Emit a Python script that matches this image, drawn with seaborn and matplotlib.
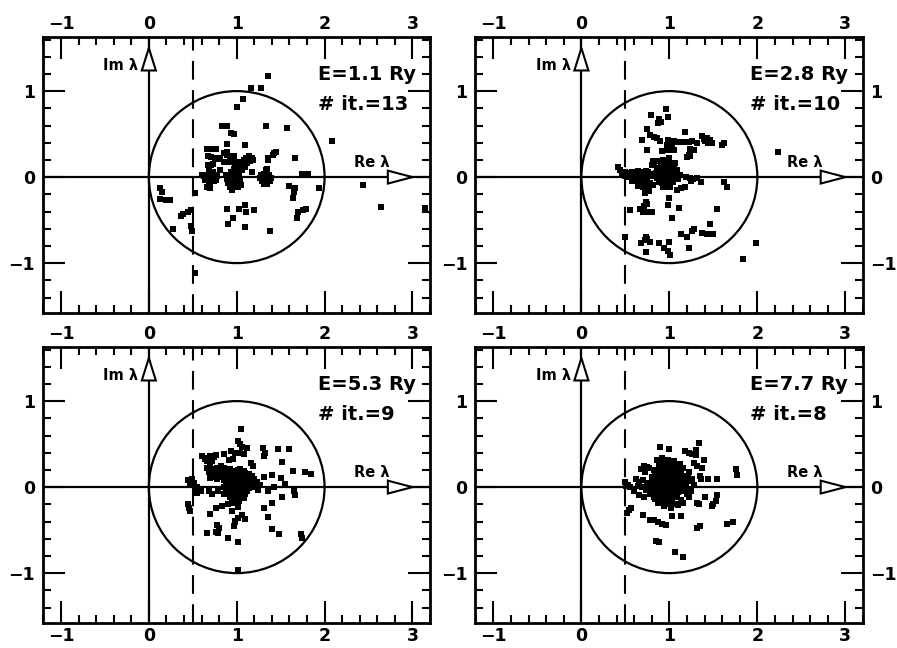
import numpy as np
import matplotlib
matplotlib.use("Agg")
import matplotlib.pyplot as plt
from matplotlib.patches import Circle, Polygon
from matplotlib.ticker import MultipleLocator
import seaborn as sns

# panel captions
energies = ["E=1.1 Ry", "E=2.8 Ry", "E=5.3 Ry", "E=7.7 Ry"]
iterations = ["# it.=13", "# it.=10", "# it.=9", "# it.=8"]

# eigenvalues (Re, Im)
eig_e11 = [
    (1.36, 1.17), (1.16, 1.04), (1.28, 1.04), (1.07, 0.91), (1.00, 0.81),
    (0.83, 0.60), (0.89, 0.59), (1.33, 0.60), (1.57, 0.57),
    (0.94, 0.51), (0.97, 0.50), (2.09, 0.42), (0.89, 0.38), (1.09, 0.37),
    (0.66, 0.33), (0.70, 0.33), (0.74, 0.33), (0.77, 0.33), (0.89, 0.29),
    (0.67, 0.24), (0.71, 0.23), (0.75, 0.22), (0.79, 0.21), (0.81, 0.22),
    (0.85, 0.18), (0.88, 0.18), (0.91, 0.18), (0.94, 0.18),
    (0.67, 0.14), (0.71, 0.14), (0.73, 0.15), (0.81, 0.08),
    (0.86, 0.28), (0.89, 0.26), (0.93, 0.25), (0.97, 0.24),
    (1.45, 0.29), (1.41, 0.26), (1.36, 0.20), (1.43, 0.28), (1.66, 0.22),
    (1.36, 0.22), (1.34, 0.10), (1.17, 0.06), (1.33, 0.08),
    (1.74, 0.04), (1.81, 0.04),
    (1.60, -0.10), (1.66, -0.13), (1.65, -0.17), (1.64, -0.24), (1.94, -0.13),
    (2.44, -0.09),
    (0.125, -0.13), (0.145, -0.17), (0.13, -0.25), (0.19, -0.27), (0.24, -0.27),
    (0.52, -0.18),
    (0.485, -0.38), (0.45, -0.40), (0.39, -0.43), (0.37, -0.45),
    (0.89, -0.37), (1.03, -0.37), (1.09, -0.32), (1.11, -0.40), (1.20, -0.38),
    (0.96, -0.47), (0.90, -0.54), (1.10, -0.58),
    (1.70, -0.40), (1.75, -0.38), (1.79, -0.37), (1.69, -0.48),
    (1.375, -0.63), (2.64, -0.35), (0.28, -0.60), (0.48, -0.57), (0.49, -0.63),
    (3.14, -0.36), (0.52, -1.12), (0.66, -0.11), (0.70, -0.13),
    (0.92, 0.22), (0.95, 0.20), (0.98, 0.16), (1.00, 0.12), (1.02, 0.10),
    (0.97, 0.10), (1.04, 0.14), (1.06, 0.18), (1.08, 0.20), (1.11, 0.22),
    (1.14, 0.24), (1.17, 0.22), (1.19, 0.20), (1.12, 0.16), (1.09, 0.12),
    (1.06, 0.08), (1.03, 0.05), (1.01, 0.17), (1.10, 0.16), (1.15, 0.19),
    (0.88, 0.02), (0.91, 0.03), (0.94, 0.02), (0.97, 0.03), (1.00, 0.02),
    (1.03, 0.03), (0.89, -0.02), (0.92, -0.03), (0.95, -0.02), (0.98, -0.03),
    (1.01, -0.02), (1.04, -0.03), (0.90, -0.07), (0.93, -0.08), (0.96, -0.07),
    (0.99, -0.08), (1.02, -0.07), (0.92, -0.11), (0.95, -0.12), (0.98, -0.11),
    (1.01, -0.12), (0.95, -0.15), (0.93, 0.06), (0.99, 0.07), (1.05, -0.09),
    (0.60, 0.02), (0.63, 0.01), (0.66, 0.03), (0.69, 0.01), (0.72, 0.03),
    (0.75, 0.02), (0.78, 0.01), (0.64, -0.03), (0.68, -0.04), (0.71, -0.02),
    (0.74, -0.04), (0.77, -0.03), (0.70, -0.07), (0.73, 0.06), (0.69, 0.07),
    (1.28, 0.03), (1.31, 0.04), (1.34, 0.04), (1.37, 0.03), (1.27, -0.01),
    (1.30, -0.01), (1.33, -0.01), (1.36, -0.01), (1.39, -0.01), (1.29, -0.05),
    (1.32, -0.06), (1.35, -0.05), (1.38, -0.04), (1.31, -0.08), (1.34, -0.08),
]

eig_e28 = [
    (0.96, 0.79), (0.79, 0.72), (0.98, 0.70), (0.88, 0.67), (0.90, 0.64),
    (0.87, 0.63), (0.75, 0.56), (1.18, 0.52),
    (0.78, 0.49), (0.82, 0.47), (0.86, 0.45), (0.89, 0.42), (0.69, 0.43),
    (0.99, 0.43), (1.05, 0.42), (1.10, 0.41), (1.16, 0.41), (1.22, 0.41),
    (1.26, 0.42), (1.31, 0.40),
    (1.37, 0.48), (1.40, 0.46), (1.43, 0.45), (1.46, 0.43), (1.40, 0.42),
    (1.44, 0.40), (1.49, 0.40), (1.39, 0.44), (1.62, 0.40), (1.60, 0.37),
    (0.97, 0.37), (1.01, 0.33), (1.05, 0.31), (0.99, 0.31), (0.92, 0.30),
    (1.03, 0.36), (1.24, 0.33), (1.28, 0.31), (1.22, 0.26), (1.20, 0.23),
    (1.24, 0.25), (0.74, 0.32), (2.24, 0.29),
    (0.82, 0.18), (0.80, 0.14), (0.86, 0.19), (0.81, 0.19), (0.84, 0.19),
    (0.83, 0.15),
    (0.42, 0.12), (0.44, 0.08), (0.46, 0.05), (0.49, 0.06), (0.52, 0.04),
    (0.55, 0.05), (0.58, 0.06), (0.61, 0.05), (0.64, 0.07), (0.67, 0.06),
    (0.70, 0.05), (0.73, 0.07), (0.76, 0.06), (0.79, 0.04), (0.50, 0.01),
    (0.54, 0.00), (0.58, 0.01), (0.62, -0.01), (0.66, 0.00), (0.71, 0.01),
    (0.75, 0.00), (0.80, 0.01),
    (0.57, -0.04), (0.60, -0.05), (0.63, -0.04), (0.66, -0.06), (0.69, -0.07),
    (0.72, -0.06), (0.75, -0.08), (0.78, -0.07), (0.81, -0.09), (0.64, -0.10),
    (0.70, -0.12), (0.74, -0.14), (0.77, -0.16), (0.72, -0.18),
    (0.93, 0.20), (0.97, 0.19), (1.00, 0.22), (0.90, 0.16), (0.94, 0.15),
    (0.98, 0.14), (1.02, 0.15), (1.06, 0.16), (0.86, 0.11), (0.89, 0.10),
    (0.93, 0.10), (0.97, 0.09), (1.01, 0.10), (1.05, 0.09), (1.09, 0.08),
    (0.85, 0.05), (0.88, 0.04), (0.92, 0.05), (0.96, 0.04), (1.00, 0.05),
    (1.04, 0.04), (1.08, 0.03), (1.12, 0.02), (0.86, -0.01), (0.90, -0.02),
    (0.94, -0.01), (0.98, -0.02), (1.02, -0.01), (1.06, -0.02), (1.10, -0.02),
    (0.88, -0.06), (0.92, -0.07), (0.96, -0.06), (1.00, -0.07), (1.04, -0.06),
    (0.93, -0.11), (0.97, -0.12), (1.01, -0.11),
    (1.19, 0.00), (1.23, -0.01), (1.27, -0.02), (1.31, -0.01), (1.25, -0.04),
    (1.36, -0.06), (1.62, -0.06), (1.66, -0.12),
    (1.09, -0.15), (1.13, -0.13), (1.18, -0.11),
    (1.00, -0.24), (1.11, -0.36), (0.99, -0.33), (1.54, -0.37), (0.55, -0.38),
    (0.73, -0.29), (0.75, -0.31), (0.71, -0.34), (0.67, -0.37), (0.70, -0.41),
    (0.75, -0.41), (0.80, -0.40),
    (1.03, -0.48), (1.46, -0.55),
    (1.28, -0.60), (1.26, -0.63), (1.37, -0.65), (1.43, -0.66), (1.50, -0.66),
    (1.13, -0.66), (1.20, -0.70), (0.50, -0.70),
    (0.73, -0.70), (0.75, -0.72), (0.78, -0.75), (0.72, -0.73), (0.68, -0.77),
    (0.88, -0.77), (1.00, -0.76), (0.94, -0.83), (0.99, -0.86), (1.01, -0.90),
    (1.22, -0.82), (0.73, -0.87), (1.98, -0.77), (1.84, -0.95),
]

eig_e53 = [
    (1.05, 0.67), (1.02, 0.535), (1.04, 0.50),
    (1.06, 0.47), (1.04, 0.40), (1.08, 0.38), (1.12, 0.45), (0.98, 0.40),
    (0.94, 0.42), (1.30, 0.46), (1.32, 0.40), (1.31, 0.36),
    (1.47, 0.44), (1.59, 0.44), (1.52, 0.29),
    (1.64, 0.19), (1.78, 0.18), (1.84, 0.15),
    (0.61, 0.36), (0.64, 0.33), (0.67, 0.34), (0.70, 0.36), (0.74, 0.35),
    (0.77, 0.37), (0.66, 0.30), (0.72, 0.30),
    (0.85, 0.38), (0.91, 0.31), (0.96, 0.33), (1.16, 0.28), (1.19, 0.24),
    (0.66, 0.22), (0.70, 0.23), (0.74, 0.21), (0.78, 0.22), (0.82, 0.24),
    (0.86, 0.22), (0.68, 0.17), (0.72, 0.16), (0.76, 0.18), (0.80, 0.16),
    (0.84, 0.17), (0.70, 0.11), (0.74, 0.12), (0.78, 0.10), (0.82, 0.12),
    (0.86, 0.11),
    (0.88, 0.20), (0.92, 0.21), (0.97, 0.19), (1.01, 0.20), (1.04, 0.21),
    (1.08, 0.19),
    (0.86, 0.16), (0.90, 0.15), (0.94, 0.17), (0.98, 0.16), (1.02, 0.15),
    (1.06, 0.17), (1.10, 0.16), (1.14, 0.15),
    (0.88, 0.12), (0.92, 0.11), (0.96, 0.13), (1.00, 0.12), (1.04, 0.11),
    (1.08, 0.13), (1.12, 0.12),
    (0.86, 0.08), (0.90, 0.07), (0.94, 0.09), (0.98, 0.08), (1.02, 0.07),
    (1.06, 0.09), (1.10, 0.08), (1.14, 0.07),
    (0.88, 0.04), (0.92, 0.03), (0.96, 0.05), (1.00, 0.04), (1.04, 0.03),
    (1.08, 0.05), (1.12, 0.04), (1.16, 0.03),
    (0.86, 0.00), (0.90, -0.01), (0.94, 0.01), (0.98, 0.00), (1.02, -0.01),
    (1.06, 0.01), (1.10, 0.00), (1.14, -0.01),
    (0.88, -0.04), (0.92, -0.05), (0.96, -0.03), (1.00, -0.04), (1.04, -0.05),
    (1.08, -0.03), (1.12, -0.04),
    (0.90, -0.08), (0.94, -0.09), (0.98, -0.07), (1.02, -0.08), (1.06, -0.09),
    (1.10, -0.08),
    (0.92, -0.12), (0.96, -0.13), (1.00, -0.11), (1.04, -0.12), (1.08, -0.13),
    (0.95, -0.16), (0.99, -0.17), (1.03, -0.16),
    (1.17, 0.13), (1.20, 0.10), (1.23, 0.06), (1.26, 0.02), (1.21, 0.00),
    (1.24, -0.03), (1.31, 0.12), (1.40, 0.14), (1.50, 0.11), (1.55, 0.04),
    (0.49, 0.10), (0.51, 0.05), (0.55, 0.00), (0.59, -0.04), (0.55, -0.07),
    (0.45, 0.08), (0.47, 0.02),
    (0.68, -0.04), (0.72, -0.08), (0.79, -0.04), (0.85, -0.08),
    (1.36, -0.04), (1.43, 0.00), (1.52, -0.11), (1.65, -0.05), (1.66, -0.09),
    (1.31, -0.24), (1.40, -0.19),
    (0.76, -0.24), (0.83, -0.22), (0.90, -0.20), (0.97, -0.19), (1.02, -0.23),
    (0.45, -0.20), (0.46, -0.24), (0.47, -0.28), (0.70, -0.31),
    (0.95, -0.28), (1.06, -0.32), (1.02, -0.36), (1.09, -0.37), (0.98, -0.39),
    (1.36, -0.35),
    (0.78, -0.44), (0.80, -0.48), (0.77, -0.52), (0.79, -0.53),
    (0.97, -0.45), (0.98, -0.41),
    (0.66, -0.53), (0.90, -0.59), (1.02, -0.64),
    (1.40, -0.49), (1.48, -0.54), (1.73, -0.54), (1.74, -0.59),
    (1.02, -0.96),
]

eig_e77 = [
    (1.34, 0.515), (0.89, 0.465), (1.00, 0.44),
    (1.30, 0.43), (1.18, 0.42), (1.22, 0.40), (1.26, 0.38), (1.30, 0.37),
    (1.39, 0.32), (1.28, 0.28), (1.31, 0.25), (1.37, 0.22),
    (1.76, 0.21), (1.77, 0.14),
    (1.35, 0.13), (1.36, 0.10), (1.44, 0.09), (1.54, 0.09),
    (0.71, 0.25), (0.74, 0.23), (0.68, 0.21), (0.77, 0.22), (0.72, 0.18),
    (0.86, 0.32), (0.92, 0.34), (0.98, 0.31), (1.05, 0.30), (1.12, 0.27),
    (1.16, 0.22), (1.22, 0.18), (1.26, 0.10), (1.28, 0.03), (1.25, -0.05),
    (1.22, -0.12), (1.16, -0.18), (1.10, -0.21), (1.02, -0.24), (0.94, -0.22),
    (0.87, -0.18), (0.82, -0.12), (0.79, -0.05), (0.78, 0.03), (0.80, 0.12),
    (0.82, 0.20), (0.90, 0.29), (0.96, 0.28), (1.02, 0.27), (1.09, 0.26),
    (1.21, 0.13), (1.23, 0.07), (1.22, -0.02), (1.20, -0.08), (0.81, 0.07),
    (0.80, -0.02), (0.84, -0.14), (0.98, -0.20), (1.06, -0.20), (1.13, -0.15),
    (0.88, 0.24), (0.93, 0.25), (0.98, 0.23), (1.03, 0.24), (1.08, 0.23),
    (0.85, 0.19), (0.89, 0.20), (0.94, 0.18), (0.99, 0.19), (1.04, 0.20),
    (1.09, 0.18), (1.13, 0.19),
    (0.84, 0.14), (0.88, 0.13), (0.92, 0.15), (0.97, 0.14), (1.01, 0.13),
    (1.06, 0.15), (1.10, 0.14), (1.15, 0.13),
    (0.83, 0.09), (0.87, 0.10), (0.91, 0.08), (0.95, 0.09), (1.00, 0.10),
    (1.04, 0.08), (1.08, 0.09), (1.13, 0.10), (1.18, 0.08),
    (0.84, 0.04), (0.88, 0.03), (0.92, 0.05), (0.96, 0.04), (1.00, 0.03),
    (1.05, 0.05), (1.09, 0.04), (1.14, 0.03), (1.19, 0.04),
    (0.83, -0.01), (0.87, 0.00), (0.91, -0.02), (0.95, -0.01), (0.99, 0.00),
    (1.03, -0.02), (1.07, -0.01), (1.12, 0.00), (1.17, -0.02),
    (0.85, -0.06), (0.89, -0.05), (0.93, -0.07), (0.97, -0.06), (1.02, -0.05),
    (1.06, -0.07), (1.10, -0.06), (1.15, -0.05),
    (0.88, -0.11), (0.92, -0.10), (0.96, -0.12), (1.00, -0.11), (1.05, -0.10),
    (1.09, -0.12),
    (0.94, -0.16), (0.99, -0.15), (1.03, -0.17),
    (0.62, 0.10), (0.66, 0.06), (0.70, 0.08), (0.74, 0.05), (0.64, 0.01),
    (0.69, 0.00), (0.73, -0.03), (0.77, -0.01),
    (0.50, 0.06), (0.53, 0.03), (0.55, 0.00), (0.51, 0.01),
    (0.60, -0.05), (0.65, -0.09), (0.71, -0.11), (0.78, -0.08),
    (0.56, -0.24), (0.54, -0.27), (0.52, -0.30),
    (0.70, -0.33), (0.78, -0.38), (0.83, -0.38), (0.87, -0.41), (0.92, -0.43),
    (0.96, -0.44), (1.03, -0.34), (1.13, -0.34),
    (1.31, -0.18), (1.34, -0.20), (1.40, -0.11), (1.54, -0.09), (1.53, -0.16),
    (1.50, -0.20), (1.48, -0.22),
    (1.31, -0.47), (1.35, -0.45), (1.66, -0.43), (1.72, -0.40),
    (0.85, -0.63), (0.88, -0.64), (1.06, -0.76), (1.15, -0.81),
]

panels = [eig_e11, eig_e28, eig_e53, eig_e77]

# axes rectangles in figure fraction: [left, bottom, width, height]
positions = [
    [0.0474, 0.517, 0.432, 0.426],
    [0.5295, 0.517, 0.4325, 0.426],
    [0.0474, 0.0386, 0.432, 0.426],
    [0.5295, 0.0386, 0.4325, 0.426],
]


def draw_panel(ax, pts, energy, iters, is_right, is_bottom):
    pts = np.array(pts)
    ax.set_xlim(-1.21, 3.2)
    ax.set_ylim(-1.58, 1.63)

    ax.axhline(0, color="black", lw=1.6, zorder=2)
    ax.axvline(0, color="black", lw=1.6, zorder=2)
    ax.axvline(0.5, color="black", lw=1.5, ls=(0, (9, 5)), zorder=2)
    ax.add_patch(Circle((1, 0), 1, fill=False, ec="black", lw=1.6, zorder=3))

    # open arrow heads on the Re and Im axes
    ax.add_patch(Polygon([(2.72, -0.075), (3.0, 0), (2.72, 0.075)], closed=True,
                         fc="white", ec="black", lw=1.5, zorder=5))
    ax.add_patch(Polygon([(-0.08, 1.24), (0, 1.5), (0.08, 1.24)], closed=True,
                         fc="white", ec="black", lw=1.5, zorder=5))

    sns.scatterplot(x=pts[:, 0], y=pts[:, 1], ax=ax, color="black", marker="s",
                    s=13, linewidth=0, legend=False, zorder=4)

    ax.text(-0.12, 1.25, "Im λ", ha="right", va="baseline", fontsize=10.5,
            fontweight="bold", color="black")
    ax.text(2.34, 0.12, "Re λ", ha="left", va="baseline", fontsize=10.5,
            fontweight="bold", color="black")
    ax.text(1.92, 1.13, energy, ha="left", va="baseline", fontsize=14,
            fontweight="bold", color="black")
    ax.text(1.92, 0.78, iters, ha="left", va="baseline", fontsize=14,
            fontweight="bold", color="black")

    ax.xaxis.set_major_locator(MultipleLocator(1))
    ax.xaxis.set_minor_locator(MultipleLocator(0.2))
    ax.yaxis.set_major_locator(MultipleLocator(1))
    ax.yaxis.set_minor_locator(MultipleLocator(0.2))
    ax.tick_params(which="both", direction="in", top=True, bottom=True,
                   left=True, right=True, width=1.5, colors="black")
    ax.tick_params(which="major", length=16)
    ax.tick_params(which="minor", length=6)
    ax.tick_params(axis="x", labeltop=True, labelbottom=is_bottom, pad=3,
                   labelsize=12.5)
    ax.tick_params(axis="y", labelleft=True, labelright=is_right, pad=5.5,
                   labelsize=12.5)

    for sp in ax.spines.values():
        sp.set_linewidth(2)
        sp.set_color("black")
    ax.set_xlabel("")
    ax.set_ylabel("")


sns.set_style("ticks")
plt.rcParams["font.family"] = ["DejaVu Sans"]
plt.rcParams["font.weight"] = "bold"
plt.rcParams["text.color"] = "black"
plt.rcParams["xtick.color"] = "black"
plt.rcParams["ytick.color"] = "black"

fig = plt.figure(figsize=(8.97, 6.48), dpi=100)
for i, pts in enumerate(panels):
    ax = fig.add_axes(positions[i])
    draw_panel(ax, pts, energies[i], iterations[i], i % 2 == 1, i >= 2)

fig.savefig("out.png", dpi=100, facecolor="white")
